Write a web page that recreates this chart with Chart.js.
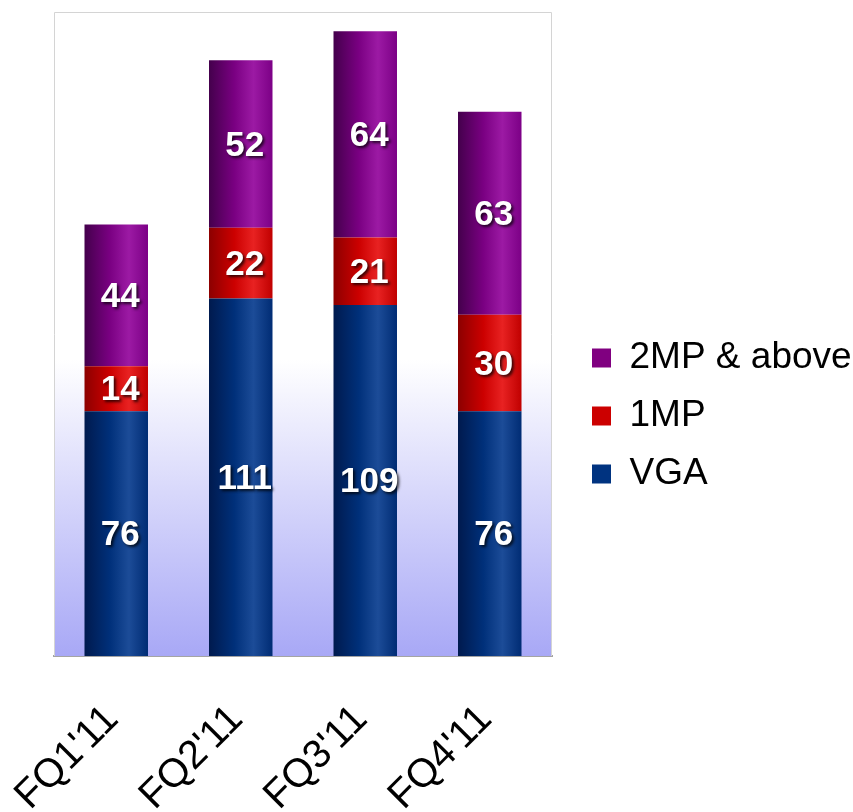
<!DOCTYPE html>
<html>
<head>
<meta charset="utf-8">
<script src="https://cdn.jsdelivr.net/npm/chart.js@4/dist/chart.umd.min.js"></script>
<style>
  html, body { margin: 0; padding: 0; background: #fff; }
  #wrap { width: 853px; height: 812px; }
</style>
</head>
<body>
<div id="wrap"><canvas id="camChart" width="853" height="812"></canvas></div>
<script>
// values (units per quarter)
const quarters = ["FQ1'11", "FQ2'11", "FQ3'11", "FQ4'11"];
const vga = [76, 111, 109, 76];
const oneMP = [14, 22, 21, 30];
const twoMPplus = [44, 52, 64, 63];
const yMax = 200;

// cylinder shading stops for each series: [left, mid, highlight, right]
const shades = {
    "VGA": ["#001a4e", "#00307a", "#1c4c98", "#002c74"],
    "1MP": ["#8c0000", "#cc0000", "#e82222", "#c00000"],
    "2MP & above": ["#44004c", "#7a0082", "#9c1aa4", "#7c0086"]
};

const FONT = "'Liberation Sans', Arial, sans-serif";
const LEGEND_WIDTH = 301;  // space reserved right of the plot
const LEGEND_SHIFT = 19;   // items start this far into that space

// light lavender wash behind the bars + thin frame
const plotBackground = {
    id: "plotBackground",
    beforeDatasetsDraw(chart) {
        const { ctx, chartArea: a } = chart;
        const g = ctx.createLinearGradient(0, a.top, 0, a.bottom);
        g.addColorStop(0, "#ffffff");
        g.addColorStop(0.54, "#ffffff");
        g.addColorStop(1, "#a8a8f6");
        ctx.save();
        ctx.fillStyle = g;
        ctx.fillRect(a.left, a.top, a.right - a.left, a.bottom - a.top);
        ctx.strokeStyle = "#d4d4d4";
        ctx.lineWidth = 1;
        ctx.beginPath();
        ctx.moveTo(a.left + 0.5, a.bottom);
        ctx.lineTo(a.left + 0.5, a.top + 0.5);
        ctx.lineTo(a.right - 0.5, a.top + 0.5);
        ctx.lineTo(a.right - 0.5, a.bottom);
        ctx.stroke();
        ctx.restore();

        // give every bar its own horizontal cylinder gradient
        chart.data.datasets.forEach((ds, i) => {
            const meta = chart.getDatasetMeta(i);
            const stops = shades[ds.label];
            meta.data.forEach(bar => {
                const x0 = bar.x - bar.width / 2;
                const gr = ctx.createLinearGradient(x0, 0, x0 + bar.width, 0);
                gr.addColorStop(0, stops[0]);
                gr.addColorStop(0.4, stops[1]);
                gr.addColorStop(0.7, stops[2]);
                gr.addColorStop(1, stops[3]);
                bar.options = Object.assign({}, bar.options, { backgroundColor: gr });
            });
        });
    }
};

// white numbers in the middle of each segment
const segmentLabels = {
    id: "segmentLabels",
    afterDatasetsDraw(chart) {
        const { ctx } = chart;
        ctx.save();
        ctx.font = "bold 35px " + FONT;
        ctx.textAlign = "center";
        ctx.textBaseline = "middle";
        ctx.fillStyle = "#ffffff";
        ctx.shadowColor = "rgba(0,0,0,0.75)";
        ctx.shadowOffsetX = 2;
        ctx.shadowOffsetY = 2;
        ctx.shadowBlur = 3;
        chart.data.datasets.forEach((ds, i) => {
            chart.getDatasetMeta(i).data.forEach((bar, j) => {
                ctx.fillText(String(ds.data[j]), bar.x + 4, (bar.y + bar.base) / 2 + 2);
            });
        });
        ctx.restore();
    }
};

// fixed legend column, items pushed a bit right of the plot edge
const legendGap = {
    id: "legendGap",
    beforeLayout(chart) {
        const lg = chart.legend;
        if (lg && !lg._gapPatched) {
            const fit = lg.fit;
            lg.fit = function () {
                fit.call(this);
                this.width = LEGEND_WIDTH;
            };
            lg._gapPatched = true;
        }
    },
    afterLayout(chart) {
        const lg = chart.legend;
        lg.left += LEGEND_SHIFT;
        lg.top += 4;
        lg.bottom += 4;
    }
};

new Chart(document.getElementById("camChart"), {
    type: "bar",
    data: {
        labels: quarters,
        datasets: [
            { label: "VGA", data: vga, backgroundColor: "#003380" },
            { label: "1MP", data: oneMP, backgroundColor: "#cc0000" },
            { label: "2MP & above", data: twoMPplus, backgroundColor: "#800080" }
        ]
    },
    options: {
        responsive: false,
        animation: false,
        devicePixelRatio: 1,
        layout: { padding: { left: 54, top: 12, right: 0, bottom: 0 } },
        datasets: {
            bar: { barPercentage: 1, categoryPercentage: 0.51, borderWidth: 0 }
        },
        scales: {
            x: {
                stacked: true,
                grid: { display: false, drawTicks: false },
                border: { display: true, color: "#a4a4a4", width: 2 },
                ticks: {
                    color: "#000",
                    font: { family: FONT, size: 40 },
                    minRotation: 45,
                    maxRotation: 45,
                    padding: 40,
                    labelOffset: -4
                },
                afterFit(scale) {
                    scale.height = 156;
                    scale.paddingLeft = 0;
                    scale.paddingRight = 0;
                }
            },
            y: {
                stacked: true,
                display: false,
                min: 0,
                max: yMax
            }
        },
        plugins: {
            legend: {
                position: "right",
                reverse: true,
                labels: {
                    color: "#000",
                    font: { family: FONT, size: 37 },
                    boxWidth: 19,
                    boxHeight: 19,
                    padding: 21
                }
            },
            tooltip: { enabled: false }
        }
    },
    plugins: [plotBackground, segmentLabels, legendGap]
});
</script>
</body>
</html>
